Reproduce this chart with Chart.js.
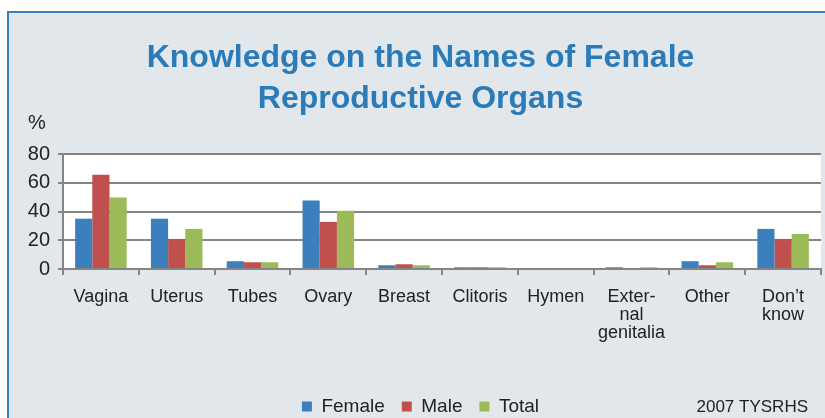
<!DOCTYPE html>
<html>
<head>
<meta charset="utf-8">
<script src="https://cdn.jsdelivr.net/npm/chart.js@4.4.1/dist/chart.umd.min.js"></script>
<style>
  html, body { margin: 0; padding: 0; background: #ffffff; overflow: hidden; }
  #wrap { width: 825px; height: 418px; overflow: hidden; }
</style>
</head>
<body>
<div id="wrap"><canvas id="organChart" width="825" height="440"></canvas></div>
<script>
// Knowledge on names of female reproductive organs (%)
const organs = ['Vagina', 'Uterus', 'Tubes', 'Ovary', 'Breast', 'Clitoris', 'Hymen',
    ['Exter-', 'nal', 'genitalia'], 'Other', ['Don\u2019t', 'know']];

const femaleValues = [35, 35, 5.4, 47.6, 2.6, 1.2, 0, 1.2, 5.4, 27.9];
const maleValues   = [65.5, 20.9, 4.7, 32.8, 3.3, 1.2, 0, 0, 2.6, 20.9];
const totalValues  = [49.7, 27.9, 4.7, 40.6, 2.6, 1.2, 0, 1.2, 4.7, 24.4];

const yTicks = [0, 20, 40, 60, 80];

const FONT = '"Liberation Sans", Arial, sans-serif';
const GRID = '#858585';

// box background, borders, white plot area and extra captions
const backdrop = {
    id: 'backdrop',
    beforeDraw(chart) {
        const ctx = chart.ctx;
        const area = chart.chartArea;
        ctx.save();
        ctx.fillStyle = '#ffffff';
        ctx.fillRect(0, 0, chart.width, chart.height);
        ctx.fillStyle = '#e2e7ec';
        ctx.fillRect(7, 11, chart.width - 7, chart.height - 11);
        ctx.fillStyle = '#3a80ba';
        ctx.fillRect(7, 11, chart.width - 7, 2);
        ctx.fillRect(7, 11, 2, chart.height - 11);
        ctx.fillStyle = '#ffffff';
        ctx.fillRect(area.left, area.top, area.right - area.left, area.bottom - area.top);
        ctx.restore();
    },
    afterDraw(chart) {
        const ctx = chart.ctx;
        const area = chart.chartArea;
        ctx.save();
        ctx.fillStyle = '#222222';
        ctx.textBaseline = 'middle';
        ctx.font = '20px ' + FONT;
        ctx.textAlign = 'left';
        ctx.fillText('%', 28, area.top - 31);
        ctx.font = '17px ' + FONT;
        ctx.textAlign = 'right';
        ctx.fillText('2007 TYSRHS', 808, 407);
        ctx.restore();
    }
};

new Chart(document.getElementById('organChart'), {
    type: 'bar',
    data: {
        labels: organs,
        datasets: [
            { label: 'Female', data: femaleValues, backgroundColor: '#3b7fbc' },
            { label: 'Male', data: maleValues, backgroundColor: '#c0504d' },
            { label: 'Total', data: totalValues, backgroundColor: '#9bbb59' }
        ]
    },
    options: {
        responsive: false,
        animation: false,
        layout: { padding: { left: 20, right: 4, top: 0, bottom: 14 } },
        datasets: {
            bar: { categoryPercentage: 0.68, barPercentage: 1.0 }
        },
        plugins: {
            title: {
                display: true,
                text: ['Knowledge on the Names of Female', 'Reproductive Organs'],
                color: '#2a7bb8',
                font: { family: FONT, size: 32, weight: 'bold', lineHeight: 41 / 32 },
                padding: { top: 38, bottom: 34 }
            },
            legend: {
                position: 'bottom',
                labels: {
                    boxWidth: 10,
                    boxHeight: 10,
                    padding: 17,
                    color: '#222222',
                    font: { family: FONT, size: 19 }
                }
            },
            tooltip: { enabled: false }
        },
        scales: {
            x: {
                offset: true,
                afterFit(scale) { scale.height = 111; },
                grid: {
                    drawOnChartArea: false,
                    drawTicks: true,
                    tickLength: 6,
                    color: GRID,
                    lineWidth: 2
                },
                border: { display: true, color: GRID, width: 2 },
                ticks: {
                    color: '#222222',
                    padding: 13,
                    maxRotation: 0,
                    autoSkip: false,
                    font: { family: FONT, size: 18, lineHeight: 1 }
                }
            },
            y: {
                min: 0,
                max: 80,
                afterFit(scale) { scale.width = 43; },
                afterBuildTicks(scale) { scale.ticks = yTicks.map(v => ({ value: v })); },
                grid: {
                    color: GRID,
                    lineWidth: 2,
                    tickLength: 5
                },
                border: { display: true, color: GRID, width: 2 },
                ticks: {
                    color: '#222222',
                    padding: 8,
                    font: { family: FONT, size: 20 }
                }
            }
        }
    },
    plugins: [backdrop]
});
</script>
</body>
</html>
